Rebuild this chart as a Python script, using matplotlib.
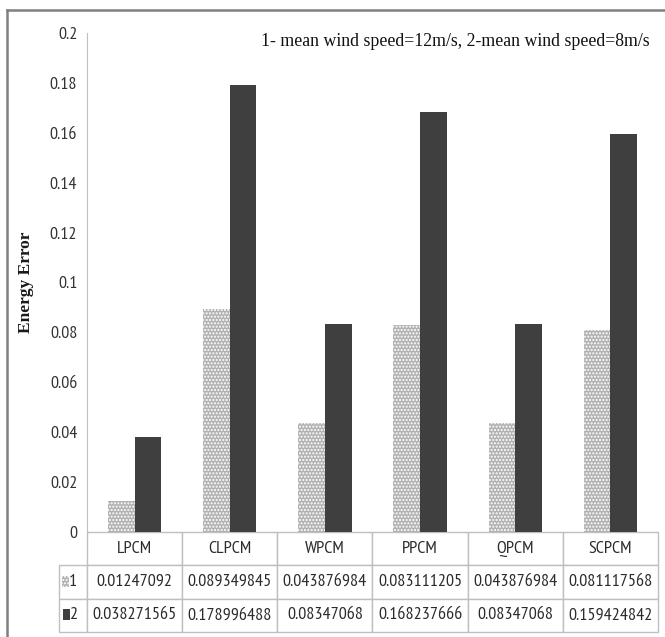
import matplotlib
matplotlib.use('Agg')
import matplotlib.pyplot as plt
from matplotlib.patches import Rectangle
from matplotlib.lines import Line2D
import numpy as np

methods = ['LPCM', 'CLPCM', 'WPCM', 'PPCM', 'QPCM', 'SCPCM']
series_names = ['1', '2']
err_12ms = [0.01247092, 0.089349845, 0.043876984, 0.083111205, 0.043876984, 0.081117568]
err_8ms = [0.038271565, 0.178996488, 0.08347068, 0.168237666, 0.08347068, 0.159424842]
yticks = [0, 0.02, 0.04, 0.06, 0.08, 0.1, 0.12, 0.14, 0.16, 0.18, 0.2]
ytick_labels = ['0', '0.02', '0.04', '0.06', '0.08', '0.1', '0.12', '0.14', '0.16', '0.18', '0.2']

sans = ['PT Sans Narrow', 'DejaVu Sans']
serif = ['Liberation Serif', 'DejaVu Serif']
plt.rcParams['hatch.linewidth'] = 1.0

W, H = 665, 637
fig = plt.figure(figsize=(W / 100, H / 100), dpi=100)
ax = fig.add_axes([87 / W, 1 - 532 / H, 571 / W, 499 / H])

x = np.arange(len(methods))
bw = 0.28
light = '#b2b2b2'
dark = '#3f3f3f'
ax.bar(x - bw / 2, err_12ms, bw, facecolor=light, edgecolor='white', hatch='.....', linewidth=0)
ax.bar(x + bw / 2, err_8ms, bw, facecolor=dark, linewidth=0)

ax.set_xlim(-0.5, len(methods) - 0.5)
ax.set_ylim(0, 0.2)
ax.set_xticks([])
ax.set_yticks(yticks)
ax.set_yticklabels(ytick_labels, family=sans, fontsize=13, color='#333333')
ax.tick_params(axis='y', length=0, pad=7)
for s in ['top', 'right', 'bottom']:
    ax.spines[s].set_visible(False)
ax.spines['left'].set_color('#bfbfbf')
ax.set_ylabel('Energy Error', family=serif, fontsize=12.5, fontweight='bold', color='#1a1a1a')
ax.yaxis.set_label_coords((34 - 87) / 571, 0.5)

# data table under the plot
rows = [[''] + methods,
        [series_names[0]] + [str(v) for v in err_12ms],
        [series_names[1]] + [str(v) for v in err_8ms]]
lab_w = 28
col_w = 95.2
tab = ax.table(cellText=rows, colWidths=[lab_w] + [col_w] * len(methods),
               cellLoc='center', bbox=[-lab_w / 571, -100 / 499, (lab_w + 571) / 571, 100 / 499])
tab.auto_set_font_size(False)
for (r, c), cell in tab.get_celld().items():
    cell.set_edgecolor('#bfbfbf')
    cell.set_linewidth(1.0)
    cell.get_text().set_fontfamily(sans)
    cell.get_text().set_fontsize(13)
    cell.get_text().set_color('#2b2b2b')
    if c == 0:
        cell._loc = 'right'
        cell.PAD = 0.28
tab[0, 0].visible_edges = ''

# legend keys inside row label cells
key = 7 / 571
ax.add_patch(Rectangle(((62 - 87) / 571, -(33 + 22) / 499), key, 11 / 499, transform=ax.transAxes,
                       facecolor=light, edgecolor='white', hatch='.....', linewidth=0, clip_on=False))
ax.add_patch(Rectangle(((63 - 87) / 571, -(66 + 22) / 499), key, 11 / 499, transform=ax.transAxes,
                       facecolor=dark, linewidth=0, clip_on=False))

fig.text(650 / W, 1 - 42 / H, '1- mean wind speed=12m/s, 2-mean wind speed=8m/s',
         family=serif, fontsize=12.8, ha='right', va='center', color='#111111')

# outer frame
fig.add_artist(Line2D([7 / W, 1], [1 - 10 / H, 1 - 10 / H], color='#808080', lw=1.8))
fig.add_artist(Line2D([7 / W, 7 / W], [0, 1 - 10 / H], color='#808080', lw=1.8))

fig.savefig('out.png', dpi=100)
